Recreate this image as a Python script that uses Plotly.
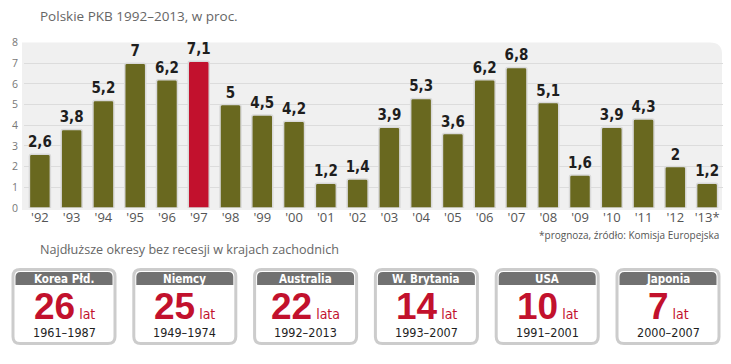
import plotly.graph_objects as go

W, H = 731, 364

# ---- data ----
years = ["'92", "'93", "'94", "'95", "'96", "'97", "'98", "'99", "'00", "'01", "'02",
         "'03", "'04", "'05", "'06", "'07", "'08", "'09", "'10", "'11", "'12", "'13*"]
gdp = [2.6, 3.8, 5.2, 7, 6.2, 7.1, 5, 4.5, 4.2, 1.2, 1.4,
       3.9, 5.3, 3.6, 6.2, 6.8, 5.1, 1.6, 3.9, 4.3, 2, 1.2]
highlight = "'97"

countries = ["Korea Płd.", "Niemcy", "Australia", "W. Brytania", "USA", "Japonia"]
streak = [26, 25, 22, 14, 10, 7]
units = ["lat", "lat", "lata", "lat", "lat", "lat"]
periods = ["1961–1987", "1949–1974", "1992–2013", "1993–2007", "1991–2001", "2000–2007"]

title = "Polskie PKB 1992–2013, w proc."
subtitle = "Najdłuższe okresy bez recesji w krajach zachodnich"
footnote = "*prognoza, źródło: Komisja Europejska"

OLIVE = "#69681f"
RED = "#c2112d"
COND = "DejaVu Sans Condensed"


def fmt(v):
    return ("%g" % v).replace(".", ",")


def P(x, y):
    return f"{x / W:.5f},{1 - y / H:.5f}"


def rrect(x0, y0, x1, y1, r, tl=True, tr=True, br=True, bl=True):
    rtl, rtr, rbr, rbl = (r if tl else 0), (r if tr else 0), (r if br else 0), (r if bl else 0)
    p = f"M {P(x0 + rtl, y0)} L {P(x1 - rtr, y0)} "
    p += f"Q {P(x1, y0)} {P(x1, y0 + rtr)} " if rtr else ""
    p += f"L {P(x1, y1 - rbr)} "
    p += f"Q {P(x1, y1)} {P(x1 - rbr, y1)} " if rbr else ""
    p += f"L {P(x0 + rbl, y1)} "
    p += f"Q {P(x0, y1)} {P(x0, y1 - rbl)} " if rbl else ""
    p += f"L {P(x0, y0 + rtl)} "
    p += f"Q {P(x0, y0)} {P(x0 + rtl, y0)} " if rtl else ""
    return p + "Z"


colors = [RED if y == highlight else OLIVE for y in years]

fig = go.Figure()
fig.add_trace(go.Bar(
    x=years, y=gdp,
    marker=dict(color=colors, line=dict(color="#d9d9d9", width=1.5), cornerradius=2),
    text=[fmt(v) for v in gdp],
    textposition="outside",
    constraintext="none",
    textfont=dict(family=COND, size=15, color="#1e1e1e", weight="bold"),
    cliponaxis=False,
    hoverinfo="skip",
))

shapes = []
shapes.append(dict(type="path", xref="paper", yref="paper", layer="below",
                   path=rrect(22, 37, 722, 211, 12, tl=False, tr=True, br=False, bl=False),
                   fillcolor="#f0f0f0", line=dict(width=0)))

annotations = []
annotations.append(dict(text=title, x=38 / W, y=1 - 9 / H, xref="paper", yref="paper",
                        xanchor="left", yanchor="middle", showarrow=False,
                        font=dict(family="Open Sans", size=13.5, color="#666666")))
annotations.append(dict(text=subtitle, x=38 / W, y=1 - 252 / H, xref="paper", yref="paper",
                        xanchor="left", yanchor="middle", showarrow=False,
                        font=dict(family="Open Sans", size=12.6, color="#666666")))
annotations.append(dict(text=footnote, x=721 / W, y=1 - 237 / H, xref="paper", yref="paper",
                        xanchor="right", yanchor="middle", showarrow=False,
                        font=dict(family="Open Sans", size=10, color="#555555")))

cw = 102
for i, (c, n, u, per) in enumerate(zip(countries, streak, units, periods)):
    x0 = 13 + i * 120.8
    x1 = x0 + cw
    cx = (x0 + x1) / 2
    shapes.append(dict(type="path", xref="paper", yref="paper", layer="above",
                       path=rrect(x0, 273, x1, 350, 7),
                       fillcolor="white", line=dict(color="#cccccc", width=3)))
    shapes.append(dict(type="path", xref="paper", yref="paper", layer="above",
                       path=rrect(x0 + 2.5, 275.5, x1 - 2.5, 289, 5, br=False, bl=False),
                       fillcolor="#717171", line=dict(width=0)))
    annotations.append(dict(text=f"<b>{c}</b>", x=cx / W, y=1 - 282.5 / H, xref="paper", yref="paper",
                            xanchor="center", yanchor="middle", showarrow=False,
                            font=dict(family=COND, size=11.5, color="white")))
    annotations.append(dict(
        text=f"<b>{n}</b><span style='font-family:DejaVu Sans Condensed;font-size:14px;font-weight:normal'> {u}</span>",
        x=cx / W, y=1 - 311 / H, xref="paper", yref="paper",
        xanchor="center", yanchor="middle", showarrow=False,
        font=dict(family="Liberation Sans", size=37, color=RED)))
    annotations.append(dict(text=per, x=cx / W, y=1 - 339 / H, xref="paper", yref="paper",
                            xanchor="center", yanchor="middle", showarrow=False,
                            font=dict(family=COND, size=12.5, color="#1e1e1e")))

fig.update_layout(
    width=W, height=H,
    margin=dict(l=0, r=0, t=0, b=0),
    paper_bgcolor="white",
    plot_bgcolor="rgba(0,0,0,0)",
    showlegend=False,
    bargap=0.34,
    shapes=shapes,
    annotations=annotations,
    xaxis=dict(domain=[24 / W, 723 / W], range=[-0.5, 21.5], type="category",
               showgrid=False, zeroline=False, showline=False, ticks="",
               tickfont=dict(family="Open Sans", size=13, color="#555555")),
    yaxis=dict(domain=[1 - 209 / H, 1 - 37 / H], range=[0, 8], dtick=1,
               showgrid=True, gridcolor="#dcdcdc", gridwidth=1, zeroline=False,
               showline=False, ticks="", ticklabelstandoff=5,
               tickfont=dict(family="Open Sans", size=10.5, color="#777777")),
)

fig.write_html("out.html", config={"displayModeBar": False},
               post_script="document.body.style.margin='0px';")
